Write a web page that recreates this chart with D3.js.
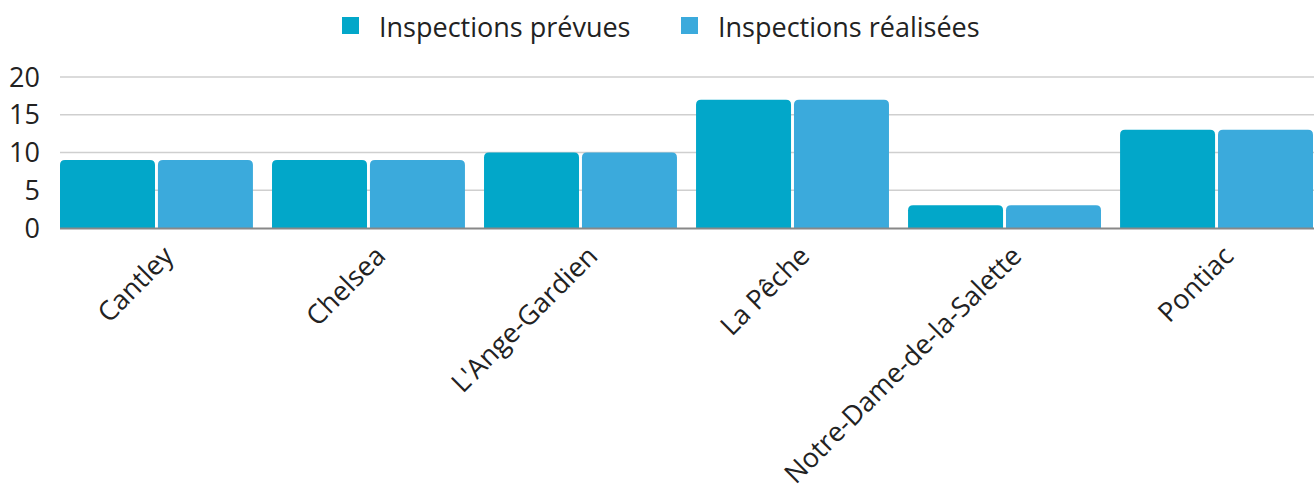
<!DOCTYPE html>
<html><head><meta charset="utf-8">
<script src="https://cdn.jsdelivr.net/npm/d3@7"></script>
<style>body{margin:0;background:#fff;} svg{display:block;font-family:"Open Sans",sans-serif;}</style>
</head><body><svg id="c" width="1314" height="492"></svg>
<script>
const categories = ["Cantley","Chelsea","L'Ange-Gardien","La Pêche","Notre-Dame-de-la-Salette","Pontiac"];
const seriesNames = ["Inspections prévues","Inspections réalisées"];
const prevues = [9,9,10,17,3,13];
const realisees = [9,9,10,17,3,13];
const yTicks = [0,5,10,15,20];
const colors = ["#02a7c9","#3baadc"];

const svg = d3.select("#c");
const x = d3.scaleBand().domain(categories).range([60,1313]).paddingInner(0.09).paddingOuter(0);
const x1 = d3.scaleBand().domain([0,1]).range([0,x.bandwidth()]).paddingInner(0.03);
const y = d3.scaleLinear().domain([0,20]).range([228,77]);

// grid
svg.append("g").selectAll("line").data(yTicks.filter(d=>d>0)).join("line")
  .attr("x1",60).attr("x2",1314).attr("y1",d=>y(d)).attr("y2",d=>y(d))
  .attr("stroke","#cfcfcf").attr("stroke-width",1.5);

// y labels
svg.append("g").selectAll("text").data(yTicks).join("text")
  .attr("x",40).attr("y",d=>y(d)).attr("dy","0.36em").attr("text-anchor","end")
  .attr("font-size",27).attr("fill","#222").text(d=>d);

const series = [prevues, realisees];
const r = 5;
function topRounded(x0,y0,w,h){
  const rr = Math.min(r,h,w/2);
  return `M${x0},${y0+h}V${y0+rr}Q${x0},${y0} ${x0+rr},${y0}H${x0+w-rr}Q${x0+w},${y0} ${x0+w},${y0+rr}V${y0+h}Z`;
}
series.forEach((vals,si)=>{
  svg.append("g").selectAll("path").data(categories).join("path")
    .attr("fill",colors[si])
    .attr("d",(c,i)=>{const x0=x(c)+x1(si), w=x1.bandwidth(), y0=y(vals[i]); return topRounded(x0,y0,w,y(0)-y0);});
});

// baseline
svg.append("line").attr("x1",60).attr("x2",1314).attr("y1",y(0)+0.5).attr("y2",y(0)+0.5)
  .attr("stroke","#888").attr("stroke-width",2);

// x labels
svg.append("g").selectAll("text").data(categories).join("text")
  .attr("transform",c=>`translate(${x(c)+x.bandwidth()/2+12},${y(0)+23}) rotate(-45)`)
  .attr("text-anchor","end").attr("dy","0.35em")
  .attr("font-size",27).attr("fill","#222").text(c=>c);

// legend
const lx = [342, 681];
const lg = svg.append("g");
seriesNames.forEach((n,i)=>{
  lg.append("rect").attr("x",lx[i]).attr("y",17).attr("width",17).attr("height",17).attr("fill",colors[i]);
  lg.append("text").attr("x",lx[i]+37).attr("y",27).attr("dy","0.36em").attr("font-size",27).attr("fill","#222").text(n);
});
</script></body></html>
